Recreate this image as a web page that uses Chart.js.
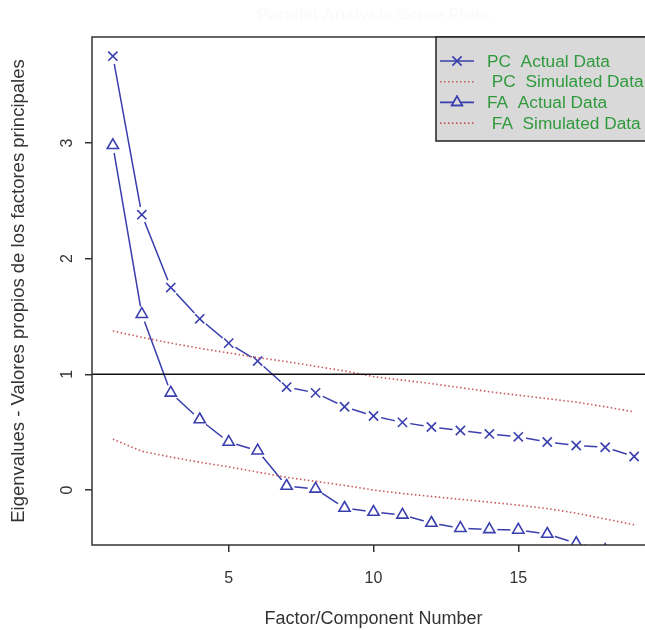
<!DOCTYPE html>
<html>
<head>
<meta charset="utf-8">
<script src="https://cdn.jsdelivr.net/npm/chart.js@4.4.1/dist/chart.umd.min.js"></script>
<style>
  html, body { margin: 0; padding: 0; background: #fff; overflow: hidden; }
  #wrap { width: 670px; height: 630px; }
</style>
</head>
<body>
<div id="wrap"><canvas id="graficoScree" width="670" height="630"></canvas></div>
<script>
// datos (analisis paralelo)
const factores = [1, 2, 3, 4, 5, 6, 7, 8, 9, 10, 11, 12, 13, 14, 15, 16, 17, 18, 19];
const pcActual = [3.75, 2.38, 1.75, 1.48, 1.27, 1.115, 0.89, 0.84, 0.72, 0.64, 0.585, 0.545, 0.515, 0.485, 0.46, 0.415, 0.385, 0.37, 0.29];
const pcSimulado = [1.375, 1.32, 1.27, 1.225, 1.185, 1.145, 1.11, 1.07, 1.03, 0.98, 0.95, 0.92, 0.885, 0.85, 0.82, 0.79, 0.76, 0.72, 0.675];
const faActual = [2.98, 1.52, 0.84, 0.61, 0.415, 0.34, 0.035, 0.01, -0.155, -0.19, -0.215, -0.285, -0.33, -0.34, -0.345, -0.38, -0.46, -0.52, -0.58];
const faSimulado = [0.44, 0.335, 0.285, 0.24, 0.2, 0.155, 0.11, 0.075, 0.04, 0.0, -0.03, -0.055, -0.08, -0.105, -0.13, -0.16, -0.2, -0.25, -0.3];
const ticksX = [5, 10, 15];
const ticksY = [0, 1, 2, 3];
const lineaReferencia = 1;
const titulo = "Parallel Analysis Scree Plots";
const leyenda = ["PC  Actual Data", " PC  Simulated Data", "FA  Actual Data", " FA  Simulated Data"];

const AZUL = "#3a3fae";
const ROJO = "#c8575b";
const VERDE = "#2f9a3c";
const GRIS = "#333333";
const FUENTE = '"Liberation Sans", Arial, sans-serif';

Chart.defaults.font.family = FUENTE;

function puntos(valores) {
  return valores.map((v, i) => ({ x: factores[i], y: v }));
}

const extras = {
  id: "extras",
  afterDatasetsDraw(chart) {
    const { ctx, chartArea: a, scales } = chart;
    // linea horizontal en 1
    const py = scales.y.getPixelForValue(lineaReferencia);
    ctx.save();
    ctx.strokeStyle = "#111";
    ctx.lineWidth = 1.5;
    ctx.beginPath();
    ctx.moveTo(a.left, py);
    ctx.lineTo(a.right, py);
    ctx.stroke();
    // caja del grafico
    ctx.strokeStyle = GRIS;
    ctx.strokeRect(a.left, a.top, a.right - a.left, a.bottom - a.top);
    ctx.restore();
  },
  afterDraw(chart) {
    const { ctx, chartArea: a, scales } = chart;
    ctx.save();

    // titulo (casi invisible en el original)
    ctx.font = "bold 17px " + FUENTE;
    ctx.fillStyle = "#fbfbfb";
    ctx.textAlign = "center";
    ctx.textBaseline = "middle";
    ctx.fillText(titulo, (a.left + a.right) / 2, 15);

    // etiquetas del eje y, giradas como en R
    ctx.font = "16px " + FUENTE;
    ctx.fillStyle = GRIS;
    ticksY.forEach(v => {
      const py = scales.y.getPixelForValue(v);
      ctx.save();
      ctx.translate(scales.y.right - 24, py);
      ctx.rotate(-Math.PI / 2);
      ctx.fillText(String(v), 0, 0);
      ctx.restore();
    });

    // leyenda
    const x0 = 436, y0 = a.top, alto = 104;
    ctx.fillStyle = "#d9d9d9";
    ctx.fillRect(x0, y0, a.right - x0, alto);
    ctx.strokeStyle = "#222";
    ctx.lineWidth = 1.5;
    ctx.strokeRect(x0, y0, a.right - x0, alto);

    leyenda.forEach((txt, i) => {
      const ry = y0 + 24 + i * 20.7;
      ctx.save();
      if (i % 2 === 0) {
        ctx.strokeStyle = AZUL;
        ctx.lineWidth = 1.6;
        ctx.beginPath();
        ctx.moveTo(440, ry);
        ctx.lineTo(474, ry);
        ctx.stroke();
        Chart.helpers.drawPoint(ctx, {
          pointStyle: i === 0 ? "crossRot" : "triangle",
          radius: i === 0 ? 6.5 : 6,
          rotation: 0,
          borderWidth: 1.6
        }, 457, ry);
        if (i === 2) {
          ctx.fillStyle = "#d9d9d9";
          ctx.fill();
          ctx.stroke();
        }
      } else {
        ctx.strokeStyle = ROJO;
        ctx.lineWidth = 1.6;
        ctx.setLineDash([1.5, 2.5]);
        ctx.beginPath();
        ctx.moveTo(440, ry);
        ctx.lineTo(474, ry);
        ctx.stroke();
      }
      ctx.restore();
      ctx.font = "17.3px " + FUENTE;
      ctx.fillStyle = VERDE;
      ctx.textAlign = "left";
      ctx.textBaseline = "middle";
      ctx.fillText(txt, 487, ry + 1);
    });

    ctx.restore();
  }
};

const ctx = document.getElementById("graficoScree").getContext("2d");
const grafico = new Chart(ctx, {
  type: "scatter",
  data: {
    datasets: [
      { label: leyenda[1], data: puntos(pcSimulado), showLine: true, borderColor: ROJO, borderWidth: 1.6, borderDash: [1.5, 2.5], pointRadius: 0, clip: 0 },
      { label: leyenda[3], data: puntos(faSimulado), showLine: true, borderColor: ROJO, borderWidth: 1.6, borderDash: [1.5, 2.5], pointRadius: 0, clip: 0 },
      { label: "pc puntos", data: puntos(pcActual), showLine: false, pointStyle: "crossRot", pointRadius: 6.5, pointBorderColor: AZUL, pointBorderWidth: 1.6, clip: 0 },
      { label: "fa puntos", data: puntos(faActual), showLine: false, pointStyle: "triangle", pointRadius: 6.5, pointBackgroundColor: "rgba(0,0,0,0)", pointBorderColor: AZUL, pointBorderWidth: 1.6, clip: 0 },
      // huecos alrededor de los puntos (tipo "b" de R)
      { label: "pc hueco", data: puntos(pcActual), showLine: false, pointStyle: "circle", pointRadius: 8, pointBackgroundColor: "#fff", pointBorderColor: "#fff", pointBorderWidth: 0, clip: 0 },
      { label: "fa hueco", data: puntos(faActual), showLine: false, pointStyle: "circle", pointRadius: 8, pointBackgroundColor: "#fff", pointBorderColor: "#fff", pointBorderWidth: 0, clip: 0 },
      { label: leyenda[0], data: puntos(pcActual), showLine: true, borderColor: AZUL, borderWidth: 1.5, pointRadius: 0, clip: 0 },
      { label: leyenda[2], data: puntos(faActual), showLine: true, borderColor: AZUL, borderWidth: 1.5, pointRadius: 0, clip: 0 }
    ]
  },
  options: {
    responsive: false,
    animation: false,
    events: [],
    layout: { padding: { top: 37, right: 15, left: 0, bottom: 0 } },
    plugins: {
      legend: { display: false },
      tooltip: { enabled: false }
    },
    scales: {
      x: {
        type: "linear",
        min: 0.28,
        max: 19.72,
        afterBuildTicks: s => { s.ticks = ticksX.map(v => ({ value: v })); },
        afterFit: s => { s.height = 85; },
        grid: { drawOnChartArea: false, drawTicks: true, tickLength: 7, color: GRIS, lineWidth: 1.5 },
        border: { display: false },
        ticks: { color: GRIS, font: { size: 16 }, padding: 17, maxRotation: 0 },
        title: { display: true, text: "Factor/Component Number", color: GRIS, font: { size: 18 }, padding: { top: 0, bottom: 0 } }
      },
      y: {
        type: "linear",
        min: -0.475,
        max: 3.916,
        afterBuildTicks: s => { s.ticks = ticksY.map(v => ({ value: v })); },
        afterFit: s => { s.width = 92; },
        grid: { drawOnChartArea: false, drawTicks: true, tickLength: 7, color: GRIS, lineWidth: 1.5 },
        border: { display: false },
        ticks: { color: "rgba(0,0,0,0)", font: { size: 16 } },
        title: { display: true, text: "Eigenvalues - Valores propios de los factores principales", color: GRIS, font: { size: 18.5 }, padding: { top: 8, bottom: 0 } }
      }
    }
  },
  plugins: [extras]
});
</script>
</body>
</html>
